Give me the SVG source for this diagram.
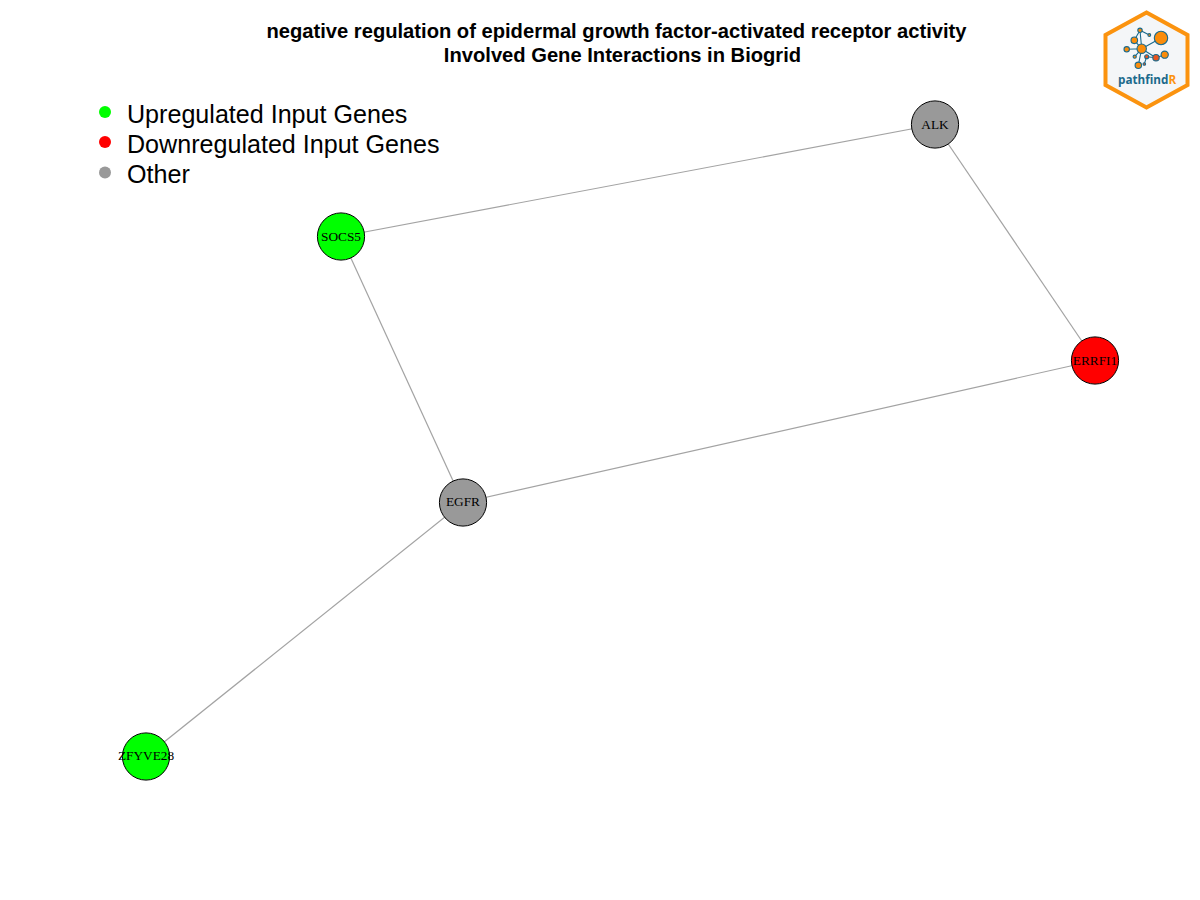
<svg xmlns="http://www.w3.org/2000/svg" width="1200" height="900" viewBox="0 0 1200 900">
<style>
.title{font:bold 20.16px "Liberation Sans",Arial,sans-serif;text-anchor:middle;fill:#000}
.leg{font:25.1px "Liberation Sans",Arial,sans-serif;fill:#000}
.lab{font:13.3px "Liberation Serif","Times New Roman",serif;text-anchor:middle;fill:#000}
.n{stroke:#000;stroke-width:1}
.e{stroke:#a3a3a3;stroke-width:1.2;fill:none}
.lg{stroke:#1b6a8c;stroke-width:1.1;fill:none}
.o{fill:#fb8c0a;stroke:#1b6a8c;stroke-width:1.1}
.r{fill:#e8541e}
</style>
<rect width="1200" height="900" fill="#fff"/>
<g id="connectors">
<line class="e" x1="341" y1="236.500" x2="935" y2="124.500"/>
<line class="e" x1="935" y1="124.500" x2="1095" y2="360.500"/>
<line class="e" x1="341" y1="236.500" x2="463" y2="502.500"/>
<line class="e" x1="463" y1="502.500" x2="1095" y2="360.500"/>
<line class="e" x1="463" y1="502.500" x2="146" y2="756.500"/>
</g>
<g id="node-ALK"><circle class="n" cx="935" cy="124.500" r="23.600" fill="#999"/><text class="lab" x="935" y="129">ALK</text></g>
<g id="node-SOCS5"><circle class="n" cx="341" cy="236.500" r="23.600" fill="#0f0"/><text class="lab" x="341" y="241">SOCS5</text></g>
<g id="node-ERRFI1"><circle class="n" cx="1095" cy="360.500" r="23.600" fill="#f00"/><text class="lab" x="1095" y="365">ERRFI1</text></g>
<g id="node-EGFR"><circle class="n" cx="463" cy="502.500" r="23.600" fill="#999"/><text class="lab" x="463" y="506">EGFR</text></g>
<g id="node-ZFYVE28"><circle class="n" cx="146" cy="756.500" r="23.600" fill="#0f0"/><text class="lab" x="146" y="760">ZFYVE28</text></g>
<g id="title">
<text class="title" x="616.500" y="38">negative regulation of epidermal growth factor-activated receptor activity</text>
<text class="title" x="622.500" y="62">Involved Gene Interactions in Biogrid</text>
</g>
<g id="legend">
<circle cx="105" cy="112" r="6" fill="#0f0"/><text class="leg" x="127" y="123">Upregulated Input Genes</text>
<circle cx="105" cy="142" r="6" fill="#f00"/><text class="leg" x="127" y="153">Downregulated Input Genes</text>
<circle cx="105" cy="172.500" r="6" fill="#999"/><text class="leg" x="127" y="183">Other</text>
</g>
<g id="logo">
<polygon points="1146.500,12.500 1187.500,35 1187.500,85 1146.500,107.500 1105.500,85 1105.500,35" fill="#f4f6f8" stroke="#fb930f" stroke-width="4"/>
<path class="lg" d="M1141.700 48.700L1161 38M1141.700 48.700L1134.300 40.300M1141.700 48.700L1126.700 49.300M1141.700 48.700L1140 30.300M1140 30.300L1149.300 35M1134.300 40.300L1140 30.300M1141.700 48.700L1134.700 56.700M1141.700 48.700L1156 57.700M1156 57.700L1164.700 54.700M1141.700 48.700L1138.300 65.300M1146.700 56.700L1144.300 64M1146.700 56.700L1156 57.700"/>
<circle class="o" cx="1161" cy="38" r="6.700"/>
<circle class="o" cx="1141.700" cy="48.700" r="4.700"/>
<circle class="o" cx="1134.300" cy="40.300" r="3.300"/>
<circle class="o" cx="1126.700" cy="49.300" r="2.700"/>
<circle class="o" cx="1140" cy="30.300" r="2.200"/>
<circle class="o" cx="1149.300" cy="35" r="1.400"/>
<circle class="o" cx="1134.700" cy="56.700" r="1.600"/>
<circle class="o r" cx="1146.700" cy="56.700" r="2"/>
<circle class="o r" cx="1156" cy="57.700" r="3.200"/>
<circle class="o" cx="1164.700" cy="54.700" r="3.600"/>
<circle class="o" cx="1138.300" cy="65.300" r="3.200"/>
<circle class="o r" cx="1144.300" cy="64" r="1.300"/>
<text x="1118" y="83.500" style="font:bold 11.700px 'Open Sans','Liberation Sans',sans-serif;fill:#1b6a8c">pathfind<tspan fill="#fb930f">R</tspan></text>
</g>
</svg>
